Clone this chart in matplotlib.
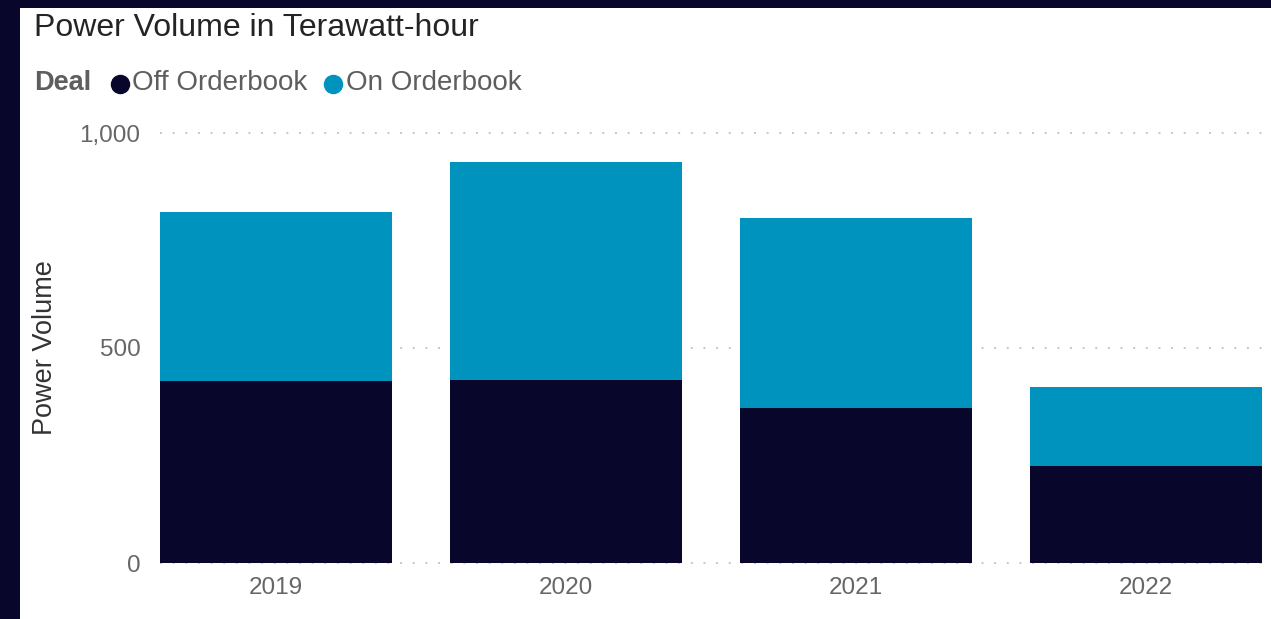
import matplotlib
matplotlib.use("Agg")
import matplotlib.pyplot as plt
from matplotlib.patches import Rectangle
from matplotlib.lines import Line2D

years = ["2019", "2020", "2021", "2022"]
off_orderbook = [423, 426, 360, 226]
on_orderbook = [393, 507, 442, 183]
y_ticks = [0, 500, 1000]
y_tick_labels = ["0", "500", "1,000"]

W, H = 1271, 619
DARK = "#08072B"
TEAL = "#0093BD"
plt.rcParams["font.family"] = ["Liberation Sans", "DejaVu Sans"]

fig = plt.figure(figsize=(W / 100, H / 100), dpi=100, facecolor=DARK)

# white card behind the visual
fig.patches.append(Rectangle((20 / W, 0), 1 - 20 / W, (H - 8) / H,
                             transform=fig.transFigure, facecolor="white",
                             edgecolor="none", zorder=-5))

def fx(px):
    return px / W

def fy(py):
    return 1 - py / H

ax = fig.add_axes([fx(160), fy(563), fx(1262) - fx(160), fy(133) - fy(563)])
ax.set_zorder(2)
ax.set_facecolor("none")

x = range(len(years))
ax.bar(x, off_orderbook, width=0.8, color=DARK, zorder=3)
ax.bar(x, on_orderbook, width=0.8, bottom=off_orderbook, color=TEAL, zorder=3)

ax.set_xlim(-0.4, 3.4)
ax.set_ylim(0, 1000)

for t in y_ticks:
    ax.axhline(t, color="#C8C6C4", lw=1.4, linestyle=(0, (1, 5.5)),
               zorder=1, clip_on=False)

for s in ax.spines.values():
    s.set_visible(False)

ax.set_xticks(list(x))
ax.set_xticklabels(years, fontsize=17.5, color="#666666")
ax.set_yticks(y_ticks)
ax.set_yticklabels(y_tick_labels, fontsize=17.5, color="#666666")
ax.tick_params(axis="both", length=0)
ax.tick_params(axis="x", pad=10)
ax.tick_params(axis="y", pad=14)

fig.text(fx(45), fy(348), "Power Volume", rotation=90, fontsize=19.5,
         color="#333333", ha="center", va="center")

fig.text(fx(34), fy(28), "Power Volume in Terawatt-hour", fontsize=23,
         color="#252423", ha="left", va="center")

# legend
fig.text(fx(34), fy(83), "Deal", fontsize=19.5, fontweight="bold",
         color="#605E5C", ha="left", va="center")
fig.lines.append(Line2D([fx(120)], [fy(84)], marker="o", markersize=13,
                        color=DARK, transform=fig.transFigure, linestyle="none"))
fig.text(fx(132), fy(83), "Off Orderbook", fontsize=20, color="#605E5C",
         ha="left", va="center")
fig.lines.append(Line2D([fx(333)], [fy(84)], marker="o", markersize=13,
                        color=TEAL, transform=fig.transFigure, linestyle="none"))
fig.text(fx(346), fy(83), "On Orderbook", fontsize=20, color="#605E5C",
         ha="left", va="center")

fig.savefig("out.png", dpi=100, facecolor=DARK)
